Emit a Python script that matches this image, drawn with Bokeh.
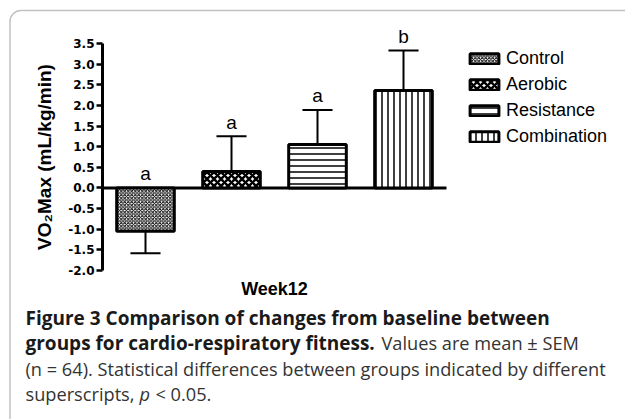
from bokeh.plotting import figure
from bokeh.models import (Label, Legend, LegendItem, FixedTicker, LinearAxis,
                          NumeralTickFormatter, ColumnDataSource, BoxAnnotation)
from bokeh.core.properties import value
from bokeh.embed import file_html
from bokeh.resources import INLINE

# ---------------- data ----------------
groups = ["Control", "Aerobic", "Resistance", "Combination"]
changes = [-1.05, 0.40, 1.05, 2.36]
sems = [0.53, 0.85, 0.84, 0.97]
letters = ["a", "a", "a", "b"]
y_ticks = [-2.0, -1.5, -1.0, -0.5, 0.0, 0.5, 1.0, 1.5, 2.0, 2.5, 3.0, 3.5]
x_label = "Week12"
y_label = "VO\u2082Max (mL/kg/min)"

# ---------------- layout (pixels) ----------------
W, H = 625, 419
AXIS_PX = 102          # pixel column of the y axis (x = 0.5)
PX_PER_CAT = 86        # pixels per category
Y_TOP_PX, Y_BOT_PX = 43, 270   # pixel rows of the top / bottom ticks
px_per_unit = (Y_BOT_PX - Y_TOP_PX) / (max(y_ticks) - min(y_ticks))
x_start = 0.5 - AXIS_PX / PX_PER_CAT
x_end = 0.5 + (W - AXIS_PX) / PX_PER_CAT
y_end = max(y_ticks) + Y_TOP_PX / px_per_unit
y_start = min(y_ticks) - (H - Y_BOT_PX) / px_per_unit

hatch_styles = [
    dict(hatch_pattern="diagonal_cross", hatch_scale=3.5, hatch_weight=1),
    dict(hatch_pattern="diagonal_cross", hatch_scale=7, hatch_weight=2.5),
    dict(hatch_pattern="horizontal_line", hatch_scale=6, hatch_weight=1.5),
    dict(hatch_pattern="vertical_line", hatch_scale=6, hatch_weight=1.5),
]

p = figure(width=W, height=H, x_range=(x_start, x_end), y_range=(y_start, y_end),
           output_backend="svg", toolbar_location=None,
           x_axis_location=None, y_axis_location=None,
           min_border_left=0, min_border_right=0, min_border_top=0,
           min_border_bottom=0, outline_line_color=None)
p.xgrid.visible = False
p.ygrid.visible = False
p.background_fill_color = "white"
p.border_fill_color = "white"

# frame of the figure panel
p.add_layout(BoxAnnotation(left=9.5, right=W + 60, top=H - 10, bottom=-60,
                           left_units="screen", right_units="screen",
                           top_units="screen", bottom_units="screen",
                           fill_color=None, line_color="#333333",
                           line_width=1.5, border_radius=11))

ax = LinearAxis(fixed_location=0.5)
ax.ticker = FixedTicker(ticks=y_ticks)
ax.formatter = NumeralTickFormatter(format="0.0")
ax.bounds = (min(y_ticks), max(y_ticks))
ax.axis_line_width = 3
ax.axis_line_color = "black"
ax.major_tick_line_width = 2.5
ax.major_tick_line_color = "black"
ax.major_tick_out = 6
ax.major_tick_in = 0
ax.minor_tick_line_color = None
ax.major_label_text_font = "DejaVu Sans"
ax.major_label_text_font_style = "bold"
ax.major_label_text_font_size = "12px"
ax.major_label_text_color = "black"
ax.major_label_standoff = 2
ax.axis_label = y_label
ax.axis_label_text_font = "Liberation Sans"
ax.axis_label_text_font_style = "bold"
ax.axis_label_text_font_size = "19px"
ax.axis_label_text_color = "black"
ax.axis_label_standoff = 10
p.add_layout(ax, "left")

xs = [i + 1 for i in range(len(groups))]
ends = [v + (s if v >= 0 else -s) for v, s in zip(changes, sems)]
cap_half = 0.175
letter_pad = 0.34

# zero line
p.segment(x0=[0.5], y0=[0], x1=[len(groups) + 0.5], y1=[0],
          line_color="black", line_width=3)

# error bars
p.segment(x0=xs, y0=changes, x1=xs, y1=ends, line_color="black", line_width=2)
p.segment(x0=[x - cap_half for x in xs], y0=ends,
          x1=[x + cap_half for x in xs], y1=ends,
          line_color="black", line_width=2)

items = []
for i, g in enumerate(groups):
    src = ColumnDataSource(dict(x=[xs[i]], top=[changes[i]]))
    r = p.vbar(x="x", top="top", bottom=0, width=0.67, source=src,
               fill_color="white", line_color="black", line_width=3,
               hatch_color="black", **hatch_styles[i])
    items.append(LegendItem(label=g, renderers=[r]))

# significance letters
p.text(x=xs, y=[max(e, 0) + letter_pad for e in ends], text=letters,
       text_align="center", text_baseline="alphabetic",
       text_font=value("Liberation Sans"), text_font_size="19px",
       text_color="black")

legend = Legend(items=items, location=(466, 272), orientation="vertical",
                glyph_width=36, glyph_height=13, label_height=13, spacing=5,
                padding=0, margin=0, label_standoff=4,
                border_line_color=None, background_fill_alpha=0,
                label_text_font="Liberation Sans", label_text_font_size="18px",
                label_text_color="black")
p.add_layout(legend)

p.add_layout(Label(x=(xs[0] + xs[-1]) / 2, y=-2.46, text=x_label,
                   text_align="center", text_baseline="middle",
                   text_font="Liberation Sans", text_font_style="bold",
                   text_font_size="18px", text_color="black"))

# caption
cap_font = "Open Sans"
bold_c = "#1a1a1a"
norm_c = "#333333"
caption = [
    (25, 317, "Figure 3 Comparison of changes from baseline between", "bold", bold_c, "19px"),
    (25, 342.5, "groups for cardio-respiratory fitness.", "bold", bold_c, "19px"),
    (381, 342.5, "Values are mean \u00b1 SEM", "normal", norm_c, "18.2px"),
    (25, 368, "(n = 64). Statistical differences between groups indicated by different", "normal", norm_c, "18.2px"),
    (25, 393.5, "superscripts,", "normal", norm_c, "18.2px"),
    (139, 393.5, "p", "italic", norm_c, "18.2px"),
    (155, 393.5, "< 0.05.", "normal", norm_c, "18.2px"),
]
for cx, cy, t, st, col, sz in caption:
    p.add_layout(Label(x=cx, y=H - cy, x_units="screen", y_units="screen", text=t,
                       text_font=cap_font, text_font_style=st,
                       text_font_size=sz, text_color=col,
                       text_baseline="middle", text_align="left"))

open("out.html", "w").write(file_html(p, INLINE))
